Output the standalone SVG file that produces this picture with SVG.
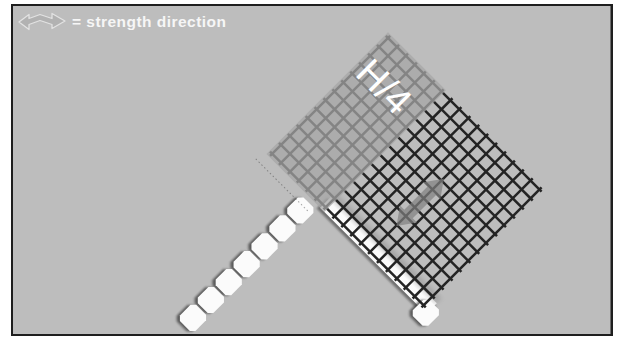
<svg xmlns="http://www.w3.org/2000/svg" width="619" height="340" viewBox="0 0 619 340">
  <defs>
    <style>
      .legend { font-family: "Liberation Sans", Arial, sans-serif; font-weight: bold; font-size: 15.5px; fill: #f6f6f6; }
      .dim { font-family: "Liberation Sans", Arial, sans-serif; font-size: 38px; fill: #ffffff; }
      .mesh line { stroke: #242424; stroke-width: 2.5; stroke-linecap: butt; }
      .block { fill: #fbfbfb; }
      .shadow { fill: #3a3a3a; opacity: 0.75; }
    </style>
    <filter id="soft" x="-30%" y="-30%" width="160%" height="160%">
      <feGaussianBlur stdDeviation="1.2"/>
    </filter>
    <filter id="haze" x="-30%" y="-30%" width="160%" height="160%">
      <feGaussianBlur stdDeviation="2.2"/>
    </filter>
    <!-- chamfered wall block, centred on the origin -->
    <polygon id="blk" points="-7,-11.5 7,-11.5 11,-7.5 11,7.5 7,11.5 -7,11.5 -11,7.5 -11,-7.5"/>
  </defs>

  <!-- page and frame -->
  <rect x="0" y="0" width="619" height="340" fill="#ffffff"/>
  <rect x="12" y="5" width="600" height="330" fill="#bdbdbd" stroke="#1e1e1e" stroke-width="2"/>
  <line x1="611.5" y1="5" x2="611.5" y2="335" stroke="#1e1e1e" stroke-width="2"/>

  <!-- legend -->
  <g id="legend">
    <path d="M19,22 L29,14.5 L29,18.5 L40,14.5 L52,18.5 L52,13.5 L65,21 L52,28.5 L52,24.5 L40,20.5 L29,24.5 L29,29.5 Z"
          fill="#b2b2b2" stroke="#e2e2e2" stroke-width="1.3" stroke-linejoin="round"/>
    <text class="legend" x="72" y="27" textLength="154" lengthAdjust="spacing">= strength direction</text>
  </g>

  <!-- everything below is laid out in the wall's own frame, turned 45 degrees -->
  <g transform="translate(388,38) rotate(45)">

    <!-- wall blocks running out from the corner -->
    <g id="wall-face">
      <g filter="url(#soft)">
        <use href="#blk" class="shadow" x="58" y="186.5"/>
        <use href="#blk" class="shadow" x="58" y="211.8"/>
        <use href="#blk" class="shadow" x="58" y="237.1"/>
        <use href="#blk" class="shadow" x="58" y="262.4"/>
        <use href="#blk" class="shadow" x="58" y="287.7"/>
        <use href="#blk" class="shadow" x="58" y="313"/>
        <use href="#blk" class="shadow" x="58" y="338.3"/>
      </g>
      <use href="#blk" class="block" x="60" y="184"/>
      <use href="#blk" class="block" x="60" y="209.3"/>
      <use href="#blk" class="block" x="60" y="234.6"/>
      <use href="#blk" class="block" x="60" y="259.9"/>
      <use href="#blk" class="block" x="60" y="285.2"/>
      <use href="#blk" class="block" x="60" y="310.5"/>
      <use href="#blk" class="block" x="60" y="335.8"/>
    </g>

    <!-- wall leg lying under the grid -->
    <g id="wall-under-grid">
      <rect x="70" y="156" width="154" height="15" fill="#3a3a3a" opacity="0.6" filter="url(#soft)"/>
      <rect x="72" y="153" width="150" height="15" fill="#fbfbfb"/>
      <rect x="72" y="146" width="150" height="8" fill="#8a8a8a" opacity="0.45" filter="url(#haze)"/>
      <use href="#blk" class="shadow" x="219" y="170" filter="url(#soft)"/>
      <use href="#blk" class="block" x="221" y="167.5"/>
    </g>

    <!-- geogrid -->
    <g id="geogrid" class="mesh">
      <line x1="0" y1="-3" x2="0" y2="166.8"/>
      <line x1="12.6" y1="-3" x2="12.6" y2="166.8"/>
      <line x1="25.2" y1="-3" x2="25.2" y2="166.8"/>
      <line x1="37.8" y1="-3" x2="37.8" y2="166.8"/>
      <line x1="50.4" y1="-3" x2="50.4" y2="166.8"/>
      <line x1="63" y1="-3" x2="63" y2="166.8"/>
      <line x1="75.6" y1="-3" x2="75.6" y2="166.8"/>
      <line x1="88.2" y1="-3" x2="88.2" y2="166.8"/>
      <line x1="100.8" y1="-3" x2="100.8" y2="166.8"/>
      <line x1="113.4" y1="-3" x2="113.4" y2="166.8"/>
      <line x1="126" y1="-3" x2="126" y2="166.8"/>
      <line x1="138.6" y1="-3" x2="138.6" y2="166.8"/>
      <line x1="151.2" y1="-3" x2="151.2" y2="166.8"/>
      <line x1="163.8" y1="-3" x2="163.8" y2="166.8"/>
      <line x1="176.4" y1="-3" x2="176.4" y2="166.8"/>
      <line x1="189" y1="-3" x2="189" y2="166.8"/>
      <line x1="201.6" y1="-3" x2="201.6" y2="166.8"/>
      <line x1="214.2" y1="-3" x2="214.2" y2="166.8"/>

      <line x1="-3" y1="0" x2="217.2" y2="0"/>
      <line x1="-3" y1="12.6" x2="217.2" y2="12.6"/>
      <line x1="-3" y1="25.2" x2="217.2" y2="25.2"/>
      <line x1="-3" y1="37.8" x2="217.2" y2="37.8"/>
      <line x1="-3" y1="50.4" x2="217.2" y2="50.4"/>
      <line x1="-3" y1="63" x2="217.2" y2="63"/>
      <line x1="-3" y1="75.6" x2="217.2" y2="75.6"/>
      <line x1="-3" y1="88.2" x2="217.2" y2="88.2"/>
      <line x1="-3" y1="100.8" x2="217.2" y2="100.8"/>
      <line x1="-3" y1="113.4" x2="217.2" y2="113.4"/>
      <line x1="-3" y1="126" x2="217.2" y2="126"/>
      <line x1="-3" y1="138.6" x2="217.2" y2="138.6"/>
      <line x1="-3" y1="151.2" x2="217.2" y2="151.2"/>
      <line x1="-3" y1="163.8" x2="217.2" y2="163.8"/>
    </g>

    <!-- embedment band of width H/4 -->
    <g id="band">
      <rect x="-4" y="-4" width="82" height="172" fill="#a6a6a6" opacity="0.74"/>
      <text class="dim" x="2" y="50">H/4</text>
    </g>

    <!-- faint setting-out line -->
    <line x1="-8" y1="179" x2="66" y2="179" stroke="#4a4a4a" stroke-width="1" stroke-dasharray="1.5 2.5" opacity="0.5"/>

    <!-- strength direction arrow -->
    <g id="strength-arrow">
      <polygon points="139,60 151,77 145,77 145,110 151,110 139,127 127,110 133,110 133,77 127,77"
               fill="#808080" opacity="0.7"/>
    </g>
  </g>
</svg>
